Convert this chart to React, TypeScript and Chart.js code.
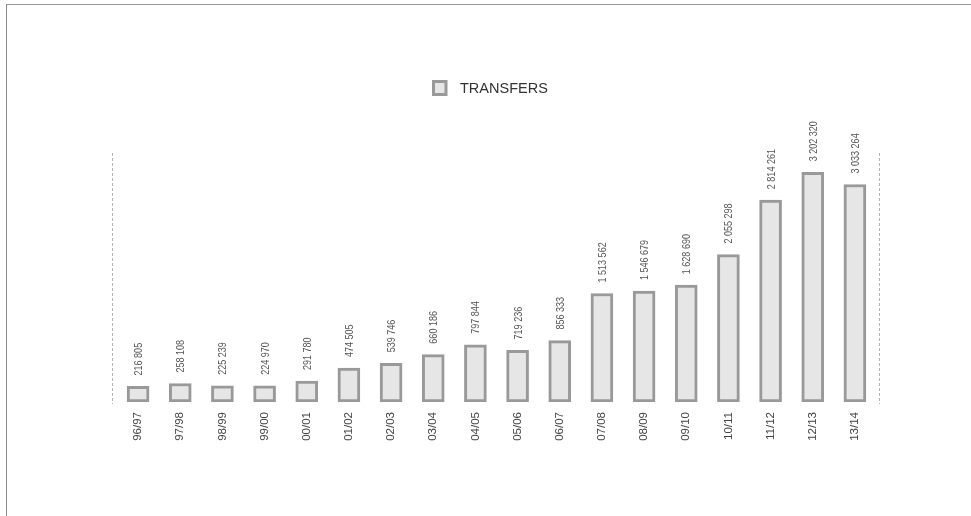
import React, { useEffect, useRef } from "react";
import { Chart, registerables } from "chart.js";

Chart.register(...registerables);

const categories = [
  "96/97", "97/98", "98/99", "99/00", "00/01", "01/02", "02/03", "03/04", "04/05",
  "05/06", "06/07", "07/08", "08/09", "09/10", "10/11", "11/12", "12/13", "13/14",
];
const transfers = [
  216805, 258108, 225239, 224970, 291780, 474505, 539746, 660186, 797844,
  719236, 856333, 1513562, 1546679, 1628690, 2055298, 2814261, 3202320, 3033264,
];
const seriesLabel = "TRANSFERS";
const yMax = 3500000;

const W = 971;
const H = 516;
const FILL = "#e6e6e6";
const STROKE = "#999999";

function fmt(v: number): string {
  return String(v).replace(/\B(?=(\d{3})+(?!\d))/g, " ");
}

const decorPlugin = {
  id: "decor",
  beforeDatasetsDraw(chart: any) {
    const { ctx, chartArea } = chart;
    ctx.save();
    ctx.strokeStyle = "#b5b5b5";
    ctx.lineWidth = 1;
    ctx.setLineDash([3, 2]);
    const top = chartArea.top + 2;
    const bottom = chartArea.bottom + 2;
    [Math.round(chartArea.left - 4) - 0.5, Math.round(chartArea.right + 3) + 0.5].forEach((x) => {
      ctx.beginPath();
      ctx.moveTo(x, top);
      ctx.lineTo(x, bottom);
      ctx.stroke();
    });
    ctx.restore();
  },
  afterDatasetsDraw(chart: any) {
    const { ctx } = chart;
    const meta = chart.getDatasetMeta(0);
    const data = chart.data.datasets[0].data as number[];
    ctx.save();
    ctx.fillStyle = "#555";
    ctx.font = "11px 'Liberation Sans', Arial, sans-serif";
    ctx.textAlign = "left";
    ctx.textBaseline = "middle";
    meta.data.forEach((bar: any, i: number) => {
      ctx.save();
      ctx.translate(bar.x + 1, bar.y - 11);
      ctx.rotate(-Math.PI / 2);
      ctx.scale(0.82, 1);
      ctx.fillText(fmt(data[i]), 0, 0);
      ctx.restore();
    });
    // legend
    const lx = 433.5;
    const ly = 81.5;
    ctx.fillStyle = FILL;
    ctx.fillRect(lx, ly, 12.5, 13);
    ctx.strokeStyle = STROKE;
    ctx.lineWidth = 3;
    ctx.strokeRect(lx, ly, 12.5, 13);
    ctx.fillStyle = "#333";
    ctx.font = "14.5px 'Liberation Sans', Arial, sans-serif";
    ctx.textBaseline = "middle";
    ctx.fillText(chart.data.datasets[0].label, 460, 88.5);
    ctx.restore();
  },
};

export default function App() {
  const ref = useRef<HTMLCanvasElement | null>(null);

  useEffect(() => {
    if (!ref.current) return;
    const chart = new Chart(ref.current, {
      type: "bar",
      data: {
        labels: categories,
        datasets: [
          {
            label: seriesLabel,
            data: transfers,
            backgroundColor: FILL,
            borderColor: STROKE,
            borderWidth: 3,
            borderSkipped: false,
            barThickness: 22,
          },
        ],
      },
      options: {
        responsive: false,
        animation: false,
        layout: { padding: { left: 117, right: 95, top: 151, bottom: 0 } },
        plugins: {
          legend: { display: false },
          tooltip: { enabled: false },
        },
        scales: {
          x: {
            offset: true,
            grid: { display: false, drawTicks: false },
            border: { display: false },
            ticks: {
              autoSkip: false,
              minRotation: 90,
              maxRotation: 90,
              padding: 10,
              color: "#444",
              font: { family: "'Liberation Sans', Arial, sans-serif", size: 11.5 },
            },
            afterFit: (scale: any) => {
              scale.height = H - 402;
            },
          },
          y: {
            display: false,
            min: 0,
            max: yMax,
          },
        },
      },
      plugins: [decorPlugin],
    });
    return () => chart.destroy();
  }, []);

  return (
    <div style={{ position: "absolute", left: 0, top: 0, width: W, height: H, overflow: "hidden", background: "#fff" }}>
      <div
        style={{
          position: "absolute",
          left: 6,
          top: 4,
          width: 1200,
          height: 800,
          borderLeft: "1px solid #8a8a8a",
          borderTop: "1px solid #999",
        }}
      />
      <canvas ref={ref} width={W} height={H} style={{ position: "absolute", left: 0, top: 0 }} />
    </div>
  );
}
